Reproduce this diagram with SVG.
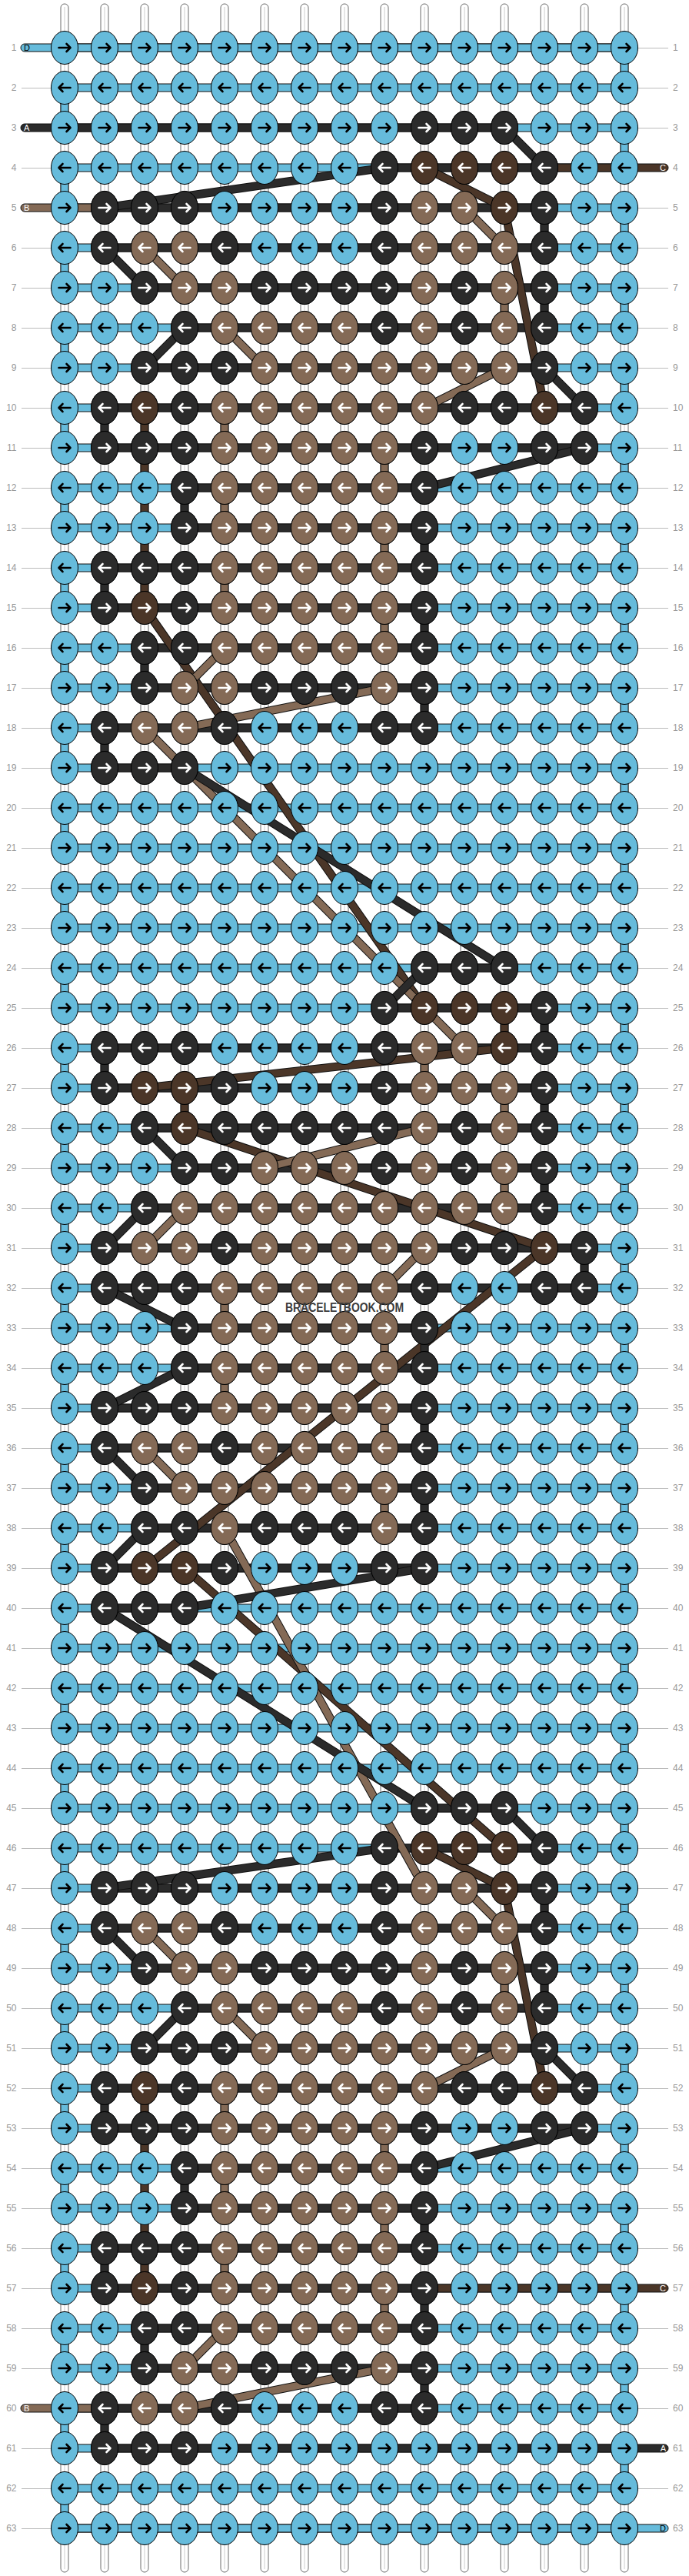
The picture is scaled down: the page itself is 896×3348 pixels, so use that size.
<svg xmlns="http://www.w3.org/2000/svg" width="896" height="3348" viewBox="0 0 896 3348">
<style>
text{font-family:"Liberation Sans",Arial,sans-serif}
.n{font-size:12px;fill:#999}
.nl{text-anchor:end}
.sl{font-size:11px;fill:#000}
.w{fill:#fff}
.re{text-anchor:end}
.wm{font-size:16px;font-weight:bold;fill:#3c3c3c}
.str{fill:#fff;stroke:#444;stroke-width:.8}
.kn{stroke:#000;stroke-width:1}
.L{fill:#66bbdb}.K{fill:#2b2b2b}.B{fill:#846a56}.C{fill:#4b3628}
.bd{stroke:#111;stroke-width:1}
.ab{fill:none;stroke:#000;stroke-width:2.6;stroke-linecap:round;stroke-linejoin:round}
.aw{fill:none;stroke:#fff;stroke-width:2.6;stroke-linecap:round;stroke-linejoin:round}
.ol{fill:none;stroke:#111;stroke-width:11}
.lK{fill:none;stroke:#2b2b2b;stroke-width:9}
.lB{fill:none;stroke:#846a56;stroke-width:9}
.lC{fill:none;stroke:#4b3628;stroke-width:9}
.lL{fill:none;stroke:#66bbdb;stroke-width:9}
</style>
<defs>
<g id="a"><ellipse class="kn L" rx="17.5" ry="21.5"/><path class="ab" d="M-7.5 0H7M2.5-5 7.5 0 2.5 5"/></g>
<g id="b"><ellipse class="kn L" rx="17.5" ry="21.5"/><path class="ab" d="M7.5 0H-7M-2.5-5-7.5 0-2.5 5"/></g>
<g id="c"><ellipse class="kn K" rx="17.5" ry="21.5"/><path class="aw" d="M-7.5 0H7M2.5-5 7.5 0 2.5 5"/></g>
<g id="d"><ellipse class="kn K" rx="17.5" ry="21.5"/><path class="aw" d="M7.5 0H-7M-2.5-5-7.5 0-2.5 5"/></g>
<g id="e"><ellipse class="kn B" rx="17.5" ry="21.5"/><path class="aw" d="M-7.5 0H7M2.5-5 7.5 0 2.5 5"/></g>
<g id="f"><ellipse class="kn B" rx="17.5" ry="21.5"/><path class="aw" d="M7.5 0H-7M-2.5-5-7.5 0-2.5 5"/></g>
<g id="g"><ellipse class="kn C" rx="17.5" ry="21.5"/><path class="aw" d="M-7.5 0H7M2.5-5 7.5 0 2.5 5"/></g>
<g id="h"><ellipse class="kn C" rx="17.5" ry="21.5"/><path class="aw" d="M7.5 0H-7M-2.5-5-7.5 0-2.5 5"/></g>
<g id="rr"><use href="#a" x="84"/><use href="#a" x="136"/><use href="#a" x="188"/><use href="#a" x="240"/><use href="#a" x="292"/><use href="#a" x="344"/><use href="#a" x="396"/><use href="#a" x="448"/><use href="#a" x="500"/><use href="#a" x="552"/><use href="#a" x="604"/><use href="#a" x="656"/><use href="#a" x="708"/><use href="#a" x="760"/><use href="#a" x="812"/></g>
<g id="rl"><use href="#b" x="84"/><use href="#b" x="136"/><use href="#b" x="188"/><use href="#b" x="240"/><use href="#b" x="292"/><use href="#b" x="344"/><use href="#b" x="396"/><use href="#b" x="448"/><use href="#b" x="500"/><use href="#b" x="552"/><use href="#b" x="604"/><use href="#b" x="656"/><use href="#b" x="708"/><use href="#b" x="760"/><use href="#b" x="812"/></g>
<g id="e5"><use href="#e" x="292"/><use href="#e" x="344"/><use href="#e" x="396"/><use href="#e" x="448"/><use href="#e" x="500"/></g>
<g id="f5"><use href="#f" x="292"/><use href="#f" x="344"/><use href="#f" x="396"/><use href="#f" x="448"/><use href="#f" x="500"/></g>
<pattern id="rowbg" patternUnits="userSpaceOnUse" x="0" y="36" width="896" height="52"><path d="M28 26.5h38M830 26.5h39" stroke="#bbb" stroke-width="1"/><rect class="bd L" x="84" y="21" width="728" height="10"/></pattern>
<path id="kr1" d="M500 213H708v10H500zM136 265H708v10H136zM136 317H708v10H136zM188 369H708v10H188zM240 421H708v10H240zM188 473H708v10H188zM136 525H760v10H136zM136 577H760v10H136zM240 629H552v10H240zM240 681H552v10H240zM136 733H552v10H136zM136 785H552v10H136zM188 837H552v10H188zM188 889H552v10H188zM136 941H552v10H136z"/>
<path id="pKi" d="M708 270V322M708 374V426M136 530V582M136 738V790M136 946V998M240 634V686M552 686V738M552 790V842M552 894V946M188 842V894M656 166L708 218M500 218L136 270M136 322L188 374M240 426L188 478M708 478L760 530M760 582L552 634"/>
<path id="pKr" d="M708 1310V1362M708 1414V1466M708 1518V1570M136 1362V1414M552 1726V1778M552 1830V1882M552 1934V1986M760 1622V1674M240 998L656 1258M552 1258L500 1310M188 1466L240 1518M188 1570L136 1622M136 1674L240 1726M240 1778L136 1830M136 1882L188 1934M188 1986L136 2038M552 2038L240 2090M136 2090L552 2350"/>
<path id="pBi" d="M656 374V426M292 530V582M292 634V686M292 738V790M500 582V634M500 686V738M500 790V842M604 270L656 322M188 322L240 374M292 426L344 478M656 478L552 530M292 842L240 894M500 894L240 946"/>
<path id="pBr" d="M656 1414V1466M656 1518V1570M292 1674V1726M292 1778V1830M500 1726V1778M500 1830V1882M500 1934V1986M552 1362V1414M188 946L604 1362M552 1466L344 1518M240 1570L188 1622M552 1622L500 1674M188 1882L240 1934M292 1986L552 2454"/>
<path id="pCi" d="M188 530V790M552 218L656 270L708 530"/>
<path id="pCr" d="M656 1310V1362M240 1414V1466M188 790L552 1310M656 1362L188 1414M240 1466L708 1622M708 1622L188 2038M240 2038L656 2402"/>
<path id="pD" d="M812 62V3234M84 114V3286" stroke-dasharray="52 52"/>
</defs>
<rect width="896" height="3348" fill="#fff"/>
<g id="strings">
<rect class="str" x="79" y="5" width="10" height="3338" rx="5"/><rect class="str" x="131" y="5" width="10" height="3338" rx="5"/><rect class="str" x="183" y="5" width="10" height="3338" rx="5"/><rect class="str" x="235" y="5" width="10" height="3338" rx="5"/><rect class="str" x="287" y="5" width="10" height="3338" rx="5"/><rect class="str" x="339" y="5" width="10" height="3338" rx="5"/><rect class="str" x="391" y="5" width="10" height="3338" rx="5"/><rect class="str" x="443" y="5" width="10" height="3338" rx="5"/><rect class="str" x="495" y="5" width="10" height="3338" rx="5"/><rect class="str" x="547" y="5" width="10" height="3338" rx="5"/><rect class="str" x="599" y="5" width="10" height="3338" rx="5"/><rect class="str" x="651" y="5" width="10" height="3338" rx="5"/><rect class="str" x="703" y="5" width="10" height="3338" rx="5"/><rect class="str" x="755" y="5" width="10" height="3338" rx="5"/><rect class="str" x="807" y="5" width="10" height="3338" rx="5"/>
<path d="M84 9V3339M136 9V3339M188 9V3339M240 9V3339M292 9V3339M344 9V3339M396 9V3339M448 9V3339M500 9V3339M552 9V3339M604 9V3339M656 9V3339M708 9V3339M760 9V3339M812 9V3339" stroke="#ccc" stroke-width="1"/>
</g>
<g id="connectors">
<rect x="0" y="36" width="896" height="3276" fill="url(#rowbg)"/>
<use href="#kr1" class="bd K"/>
<use href="#kr1" class="bd K" y="2184"/>
<path class="bd K" d="M136 993H240v10H136zM552 1253H656v10H552zM500 1305H708v10H500zM136 1357H708v10H136zM136 1409H708v10H136zM188 1461H708v10H188zM240 1513H708v10H240zM188 1565H708v10H188zM136 1617H760v10H136zM136 1669H760v10H136zM240 1721H552v10H240zM240 1773H552v10H240zM136 1825H552v10H136zM136 1877H552v10H136zM188 1929H552v10H188zM188 1981H552v10H188zM136 2033H552v10H136zM136 2085H240v10H136zM552 2345H656v10H552z"/>
<rect class="bd L" x="27" y="57" width="785" height="10" rx="5"/>
<rect class="bd K" x="27" y="161" width="629" height="10" rx="5"/>
<rect class="bd C" x="708" y="213" width="161" height="10" rx="5"/>
<rect class="bd B" x="27" y="265" width="109" height="10" rx="5"/>
<rect class="bd C" x="552" y="2969" width="317" height="10" rx="5"/>
<rect class="bd B" x="27" y="3125" width="109" height="10" rx="5"/>
<rect class="bd K" x="136" y="3177" width="733" height="10" rx="5"/>
<rect class="bd L" x="84" y="3281" width="785" height="10" rx="5"/>
<use href="#pD" class="ol"/><use href="#pD" class="lL"/>
<use href="#pCi" class="ol"/><use href="#pCi" class="ol" y="2184"/><use href="#pCr" class="ol"/>
<use href="#pCi" class="lC"/><use href="#pCi" class="lC" y="2184"/><use href="#pCr" class="lC"/>
<use href="#pBi" class="ol"/><use href="#pBi" class="ol" y="2184"/><use href="#pBr" class="ol"/>
<use href="#pBi" class="lB"/><use href="#pBi" class="lB" y="2184"/><use href="#pBr" class="lB"/>
<use href="#pKi" class="ol"/><use href="#pKi" class="ol" y="2184"/><use href="#pKr" class="ol"/>
<use href="#pKi" class="lK"/><use href="#pKi" class="lK" y="2184"/><use href="#pKr" class="lK"/>
</g>
<g id="knots">
<g id="row1" transform="translate(0 62)"><use href="#rr"/></g>
<g id="row2" transform="translate(0 114)"><use href="#rl"/></g>
<g id="rows3-19">
<g id="row3" transform="translate(0 166)"><use href="#rr"/><use href="#c" x="552"/><use href="#c" x="604"/><use href="#c" x="656"/></g>
<g id="row4" transform="translate(0 218)"><use href="#rl"/><use href="#d" x="500"/><use href="#h" x="552"/><use href="#h" x="604"/><use href="#h" x="656"/><use href="#d" x="708"/></g>
<g id="row5" transform="translate(0 270)"><use href="#rr"/><use href="#c" x="136"/><use href="#c" x="188"/><use href="#c" x="240"/><use href="#c" x="500"/><use href="#e" x="552"/><use href="#e" x="604"/><use href="#g" x="656"/><use href="#c" x="708"/></g>
<g id="row6" transform="translate(0 322)"><use href="#rl"/><use href="#d" x="136"/><use href="#f" x="188"/><use href="#f" x="240"/><use href="#d" x="292"/><use href="#d" x="500"/><use href="#f" x="552"/><use href="#f" x="604"/><use href="#f" x="656"/><use href="#d" x="708"/></g>
<g id="row7" transform="translate(0 374)"><use href="#rr"/><use href="#c" x="188"/><use href="#e" x="240"/><use href="#e" x="292"/><use href="#c" x="344"/><use href="#c" x="396"/><use href="#c" x="448"/><use href="#c" x="500"/><use href="#e" x="552"/><use href="#c" x="604"/><use href="#e" x="656"/><use href="#c" x="708"/></g>
<g id="row8" transform="translate(0 426)"><use href="#rl"/><use href="#d" x="240"/><use href="#f" x="292"/><use href="#f" x="344"/><use href="#f" x="396"/><use href="#f" x="448"/><use href="#d" x="500"/><use href="#f" x="552"/><use href="#d" x="604"/><use href="#f" x="656"/><use href="#d" x="708"/></g>
<g id="row9" transform="translate(0 478)"><use href="#rr"/><use href="#c" x="188"/><use href="#c" x="240"/><use href="#c" x="292"/><use href="#e" x="344"/><use href="#e" x="396"/><use href="#e" x="448"/><use href="#e" x="500"/><use href="#e" x="552"/><use href="#e" x="604"/><use href="#e" x="656"/><use href="#c" x="708"/></g>
<g id="row10" transform="translate(0 530)"><use href="#rl"/><use href="#d" x="136"/><use href="#h" x="188"/><use href="#d" x="240"/><use href="#f5"/><use href="#f" x="552"/><use href="#d" x="604"/><use href="#d" x="656"/><use href="#h" x="708"/><use href="#d" x="760"/></g>
<g id="row11" transform="translate(0 582)"><use href="#rr"/><use href="#c" x="136"/><use href="#c" x="188"/><use href="#c" x="240"/><use href="#e5"/><use href="#c" x="552"/><use href="#c" x="708"/><use href="#c" x="760"/></g>
<g id="row12" transform="translate(0 634)"><use href="#rl"/><use href="#d" x="240"/><use href="#f5"/><use href="#d" x="552"/></g>
<g id="row13" transform="translate(0 686)"><use href="#rr"/><use href="#c" x="240"/><use href="#e5"/><use href="#c" x="552"/></g>
<g id="row14" transform="translate(0 738)"><use href="#rl"/><use href="#d" x="136"/><use href="#d" x="188"/><use href="#d" x="240"/><use href="#f5"/><use href="#d" x="552"/></g>
<g id="row15" transform="translate(0 790)"><use href="#rr"/><use href="#c" x="136"/><use href="#g" x="188"/><use href="#c" x="240"/><use href="#e5"/><use href="#c" x="552"/></g>
<g id="row16" transform="translate(0 842)"><use href="#rl"/><use href="#d" x="188"/><use href="#d" x="240"/><use href="#f5"/><use href="#d" x="552"/></g>
<g id="row17" transform="translate(0 894)"><use href="#rr"/><use href="#c" x="188"/><use href="#e" x="240"/><use href="#e" x="292"/><use href="#c" x="344"/><use href="#c" x="396"/><use href="#c" x="448"/><use href="#e" x="500"/><use href="#c" x="552"/></g>
<g id="row18" transform="translate(0 946)"><use href="#rl"/><use href="#d" x="136"/><use href="#f" x="188"/><use href="#f" x="240"/><use href="#d" x="292"/><use href="#d" x="500"/><use href="#d" x="552"/></g>
<g id="row19" transform="translate(0 998)"><use href="#rr"/><use href="#c" x="136"/><use href="#c" x="188"/><use href="#c" x="240"/></g>
</g>
<g id="row20" transform="translate(0 1050)"><use href="#rl"/></g>
<g id="row21" transform="translate(0 1102)"><use href="#rr"/></g>
<g id="row22" transform="translate(0 1154)"><use href="#rl"/></g>
<g id="row23" transform="translate(0 1206)"><use href="#rr"/></g>
<g id="row24" transform="translate(0 1258)"><use href="#rl"/><use href="#d" x="552"/><use href="#d" x="604"/><use href="#d" x="656"/></g>
<g id="row25" transform="translate(0 1310)"><use href="#rr"/><use href="#c" x="500"/><use href="#g" x="552"/><use href="#g" x="604"/><use href="#g" x="656"/><use href="#c" x="708"/></g>
<g id="row26" transform="translate(0 1362)"><use href="#rl"/><use href="#d" x="136"/><use href="#d" x="188"/><use href="#d" x="240"/><use href="#d" x="500"/><use href="#f" x="552"/><use href="#f" x="604"/><use href="#h" x="656"/><use href="#d" x="708"/></g>
<g id="row27" transform="translate(0 1414)"><use href="#rr"/><use href="#c" x="136"/><use href="#g" x="188"/><use href="#g" x="240"/><use href="#c" x="292"/><use href="#c" x="500"/><use href="#e" x="552"/><use href="#e" x="604"/><use href="#e" x="656"/><use href="#c" x="708"/></g>
<g id="row28" transform="translate(0 1466)"><use href="#rl"/><use href="#d" x="188"/><use href="#h" x="240"/><use href="#d" x="292"/><use href="#d" x="344"/><use href="#d" x="396"/><use href="#d" x="448"/><use href="#d" x="500"/><use href="#f" x="552"/><use href="#d" x="604"/><use href="#f" x="656"/><use href="#d" x="708"/></g>
<g id="row29" transform="translate(0 1518)"><use href="#rr"/><use href="#c" x="240"/><use href="#c" x="292"/><use href="#e" x="344"/><use href="#e" x="396"/><use href="#e" x="448"/><use href="#c" x="500"/><use href="#e" x="552"/><use href="#c" x="604"/><use href="#e" x="656"/><use href="#c" x="708"/></g>
<g id="row30" transform="translate(0 1570)"><use href="#rl"/><use href="#d" x="188"/><use href="#f" x="240"/><use href="#f5"/><use href="#f" x="552"/><use href="#f" x="604"/><use href="#f" x="656"/><use href="#d" x="708"/></g>
<g id="row31" transform="translate(0 1622)"><use href="#rr"/><use href="#c" x="136"/><use href="#e" x="188"/><use href="#e" x="240"/><use href="#c" x="292"/><use href="#e" x="344"/><use href="#e" x="396"/><use href="#e" x="448"/><use href="#e" x="500"/><use href="#e" x="552"/><use href="#c" x="604"/><use href="#c" x="656"/><use href="#g" x="708"/><use href="#c" x="760"/></g>
<g id="row32" transform="translate(0 1674)"><use href="#rl"/><use href="#d" x="136"/><use href="#d" x="188"/><use href="#d" x="240"/><use href="#f5"/><use href="#d" x="552"/><use href="#d" x="708"/><use href="#d" x="760"/></g>
<g id="row33" transform="translate(0 1726)"><use href="#rr"/><use href="#c" x="240"/><use href="#e5"/><use href="#c" x="552"/></g>
<g id="row34" transform="translate(0 1778)"><use href="#rl"/><use href="#d" x="240"/><use href="#f5"/><use href="#d" x="552"/></g>
<g id="row35" transform="translate(0 1830)"><use href="#rr"/><use href="#c" x="136"/><use href="#c" x="188"/><use href="#c" x="240"/><use href="#e5"/><use href="#c" x="552"/></g>
<g id="row36" transform="translate(0 1882)"><use href="#rl"/><use href="#d" x="136"/><use href="#f" x="188"/><use href="#f" x="240"/><use href="#d" x="292"/><use href="#f" x="344"/><use href="#f" x="396"/><use href="#f" x="448"/><use href="#f" x="500"/><use href="#d" x="552"/></g>
<g id="row37" transform="translate(0 1934)"><use href="#rr"/><use href="#c" x="188"/><use href="#e" x="240"/><use href="#e5"/><use href="#c" x="552"/></g>
<g id="row38" transform="translate(0 1986)"><use href="#rl"/><use href="#d" x="188"/><use href="#d" x="240"/><use href="#f" x="292"/><use href="#d" x="344"/><use href="#d" x="396"/><use href="#d" x="448"/><use href="#f" x="500"/><use href="#d" x="552"/></g>
<g id="row39" transform="translate(0 2038)"><use href="#rr"/><use href="#c" x="136"/><use href="#g" x="188"/><use href="#g" x="240"/><use href="#c" x="292"/><use href="#c" x="500"/><use href="#c" x="552"/></g>
<g id="row40" transform="translate(0 2090)"><use href="#rl"/><use href="#d" x="136"/><use href="#d" x="188"/><use href="#d" x="240"/></g>
<g id="row41" transform="translate(0 2142)"><use href="#rr"/></g>
<g id="row42" transform="translate(0 2194)"><use href="#rl"/></g>
<g id="row43" transform="translate(0 2246)"><use href="#rr"/></g>
<g id="row44" transform="translate(0 2298)"><use href="#rl"/></g>
<use id="rows45-61" href="#rows3-19" y="2184"/>
<g id="row62" transform="translate(0 3234)"><use href="#rl"/></g>
<g id="row63" transform="translate(0 3286)"><use href="#rr"/></g>
</g>
<g id="string-labels">
<text class="sl" x="31" y="66">D</text>
<text class="sl w" x="31" y="170">A</text>
<text class="sl w" x="31" y="274">B</text>
<text class="sl w" x="31" y="3134">B</text>
<text class="sl w re" x="866" y="222">C</text>
<text class="sl w re" x="866" y="2978">C</text>
<text class="sl w re" x="866" y="3186">A</text>
<text class="sl re" x="866" y="3290">D</text>
</g>
<g id="row-numbers-left" class="n nl">
<text x="21.5" y="66">1</text><text x="21.5" y="118">2</text><text x="21.5" y="170">3</text><text x="21.5" y="222">4</text><text x="21.5" y="274">5</text><text x="21.5" y="326">6</text><text x="21.5" y="378">7</text><text x="21.5" y="430">8</text><text x="21.5" y="482">9</text><text x="21.5" y="534">10</text><text x="21.5" y="586">11</text><text x="21.5" y="638">12</text><text x="21.5" y="690">13</text><text x="21.5" y="742">14</text><text x="21.5" y="794">15</text><text x="21.5" y="846">16</text><text x="21.5" y="898">17</text><text x="21.5" y="950">18</text><text x="21.5" y="1002">19</text><text x="21.5" y="1054">20</text><text x="21.5" y="1106">21</text><text x="21.5" y="1158">22</text><text x="21.5" y="1210">23</text><text x="21.5" y="1262">24</text><text x="21.5" y="1314">25</text><text x="21.5" y="1366">26</text><text x="21.5" y="1418">27</text><text x="21.5" y="1470">28</text><text x="21.5" y="1522">29</text><text x="21.5" y="1574">30</text><text x="21.5" y="1626">31</text><text x="21.5" y="1678">32</text><text x="21.5" y="1730">33</text><text x="21.5" y="1782">34</text><text x="21.5" y="1834">35</text><text x="21.5" y="1886">36</text><text x="21.5" y="1938">37</text><text x="21.5" y="1990">38</text><text x="21.5" y="2042">39</text><text x="21.5" y="2094">40</text><text x="21.5" y="2146">41</text><text x="21.5" y="2198">42</text><text x="21.5" y="2250">43</text><text x="21.5" y="2302">44</text><text x="21.5" y="2354">45</text><text x="21.5" y="2406">46</text><text x="21.5" y="2458">47</text><text x="21.5" y="2510">48</text><text x="21.5" y="2562">49</text><text x="21.5" y="2614">50</text><text x="21.5" y="2666">51</text><text x="21.5" y="2718">52</text><text x="21.5" y="2770">53</text><text x="21.5" y="2822">54</text><text x="21.5" y="2874">55</text><text x="21.5" y="2926">56</text><text x="21.5" y="2978">57</text><text x="21.5" y="3030">58</text><text x="21.5" y="3082">59</text><text x="21.5" y="3134">60</text><text x="21.5" y="3186">61</text><text x="21.5" y="3238">62</text><text x="21.5" y="3290">63</text>
</g>
<g id="row-numbers-right" class="n">
<text x="875" y="66">1</text><text x="875" y="118">2</text><text x="875" y="170">3</text><text x="875" y="222">4</text><text x="875" y="274">5</text><text x="875" y="326">6</text><text x="875" y="378">7</text><text x="875" y="430">8</text><text x="875" y="482">9</text><text x="875" y="534">10</text><text x="875" y="586">11</text><text x="875" y="638">12</text><text x="875" y="690">13</text><text x="875" y="742">14</text><text x="875" y="794">15</text><text x="875" y="846">16</text><text x="875" y="898">17</text><text x="875" y="950">18</text><text x="875" y="1002">19</text><text x="875" y="1054">20</text><text x="875" y="1106">21</text><text x="875" y="1158">22</text><text x="875" y="1210">23</text><text x="875" y="1262">24</text><text x="875" y="1314">25</text><text x="875" y="1366">26</text><text x="875" y="1418">27</text><text x="875" y="1470">28</text><text x="875" y="1522">29</text><text x="875" y="1574">30</text><text x="875" y="1626">31</text><text x="875" y="1678">32</text><text x="875" y="1730">33</text><text x="875" y="1782">34</text><text x="875" y="1834">35</text><text x="875" y="1886">36</text><text x="875" y="1938">37</text><text x="875" y="1990">38</text><text x="875" y="2042">39</text><text x="875" y="2094">40</text><text x="875" y="2146">41</text><text x="875" y="2198">42</text><text x="875" y="2250">43</text><text x="875" y="2302">44</text><text x="875" y="2354">45</text><text x="875" y="2406">46</text><text x="875" y="2458">47</text><text x="875" y="2510">48</text><text x="875" y="2562">49</text><text x="875" y="2614">50</text><text x="875" y="2666">51</text><text x="875" y="2718">52</text><text x="875" y="2770">53</text><text x="875" y="2822">54</text><text x="875" y="2874">55</text><text x="875" y="2926">56</text><text x="875" y="2978">57</text><text x="875" y="3030">58</text><text x="875" y="3082">59</text><text x="875" y="3134">60</text><text x="875" y="3186">61</text><text x="875" y="3238">62</text><text x="875" y="3290">63</text>
</g>
<text id="watermark" class="wm" x="448" y="1705" text-anchor="middle" textLength="154" lengthAdjust="spacingAndGlyphs">BRACELETBOOK.COM</text>
</svg>
